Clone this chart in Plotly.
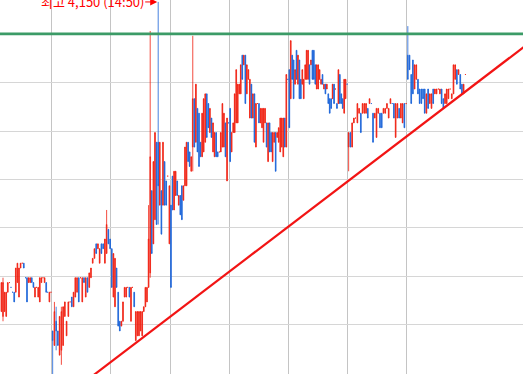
import plotly.graph_objects as go

# ---- OHLC per trading day (open, high, low, close) ----
day0 = [(3830,3860,3830,3860),(3825,3865,3820,3860),(3830,3850,3830,3850),(3825,3850,3825,3850),
        (3850,3860,3850,3860),(3860,3860,3860,3860),(3855,3855,3855,3855),(3850,3850,3850,3850),
        (3850,3850,3840,3840),(3850,3875,3850,3875),(3860,3880,3860,3880),(3845,3875,3845,3875),
        (3875,3880,3875,3880),(3880,3880,3880,3880),(3880,3880,3875,3875),(3865,3865,3865,3865),
        (3865,3865,3840,3840),(3860,3865,3860,3865),(3860,3865,3860,3865),(3865,3865,3860,3860),
        (3860,3860,3855,3855),(3845,3855,3845,3855),(3855,3855,3855,3855),(3845,3855,3845,3855),
        (3840,3865,3840,3865),(3860,3865,3860,3865),(3865,3865,3865,3865),(3860,3865,3860,3865),
        (3860,3860,3850,3850),(3850,3850,3850,3850),(3840,3850,3840,3850),(3850,3850,3850,3850)]
day1 = [(3810,3810,3765,3800),(3795,3840,3795,3830),(3820,3835,3790,3810),(3810,3810,3795,3795),
        (3785,3825,3785,3825),(3790,3835,3775,3830),(3795,3835,3795,3835),(3825,3840,3825,3840),
        (3805,3820,3805,3820),(3825,3840,3825,3840),(3840,3840,3840,3840),(3845,3845,3835,3835),
        (3835,3850,3835,3850),(3845,3865,3845,3865),(3850,3865,3850,3865),(3865,3865,3840,3840),
        (3865,3865,3865,3865),(3840,3865,3840,3865),(3865,3865,3860,3860),(3845,3865,3845,3865),
        (3865,3865,3850,3850),(3855,3870,3855,3870),(3865,3875,3865,3875),(3880,3885,3880,3885),
        (3885,3895,3885,3895),(3900,3900,3890,3890),(3895,3900,3895,3900),(3880,3895,3880,3895),
        (3900,3900,3890,3890),(3900,3900,3895,3895),(3880,3905,3880,3905),(3890,3935,3890,3920),
        (3915,3915,3900,3900),(3905,3905,3895,3895)]
day2 = [(3895,3895,3855,3855),(3845,3890,3845,3890),(3835,3885,3835,3885),(3875,3875,3855,3855),
        (3850,3850,3815,3815),(3820,3820,3810,3810),(3815,3820,3815,3820),(3820,3840,3820,3840),
        (3845,3855,3845,3855),(3845,3855,3845,3855),(3855,3855,3855,3855),(3855,3855,3845,3845),
        (3820,3855,3820,3855),(3855,3855,3855,3855),(3850,3850,3835,3835),(3800,3830,3800,3830),
        (3805,3830,3805,3830),(3805,3830,3805,3830),(3810,3830,3810,3830),(3805,3830,3805,3830),
        (3830,3835,3830,3835),(3835,3855,3835,3855),(3840,3855,3840,3855),(3855,3940,3855,3905),
        (3870,4120,3865,3990),(3955,3955,3890,3890),(3900,3985,3900,3985),(3925,4015,3925,4015),
        (4005,4005,3920,3920),(4005,4150,3920,3960),(3940,4005,3940,4005),(3955,3955,3910,3910),
        (3940,4005,3940,4005),(3985,3985,3940,3940),(3965,3965,3940,3940),(3970,3970,3970,3970),
        (3900,3960,3900,3960)]
day3 = [(3940,3940,3855,3855),(3970,3970,3935,3935),(3935,3975,3935,3975),(3950,3975,3950,3975),
        (3965,3965,3950,3950),(3940,3950,3940,3950),(3950,3950,3930,3930),(3960,3960,3925,3925),
        (3945,3960,3945,3960),(3960,4000,3960,4000),(3960,4005,3960,4005),(4005,4005,3985,3985),
        (3995,3995,3980,3980),(3975,3990,3975,3990),(4000,4115,3975,4050),(4050,4050,4000,4000),
        (4005,4065,4005,4065),(4040,4040,3995,3995),(4035,4035,3980,3980),(4005,4005,3990,3990),
        (3990,4035,3990,4035),(3995,4050,3995,4050),(4005,4055,4005,4055),(4055,4055,4010,4010),
        (4045,4045,4020,4020),(4015,4040,4015,4040),(4030,4030,4010,4010),(3995,4025,3995,4025),
        (3990,4015,3990,4015),(4015,4015,3990,3990),(3995,3995,3990,3990),(3995,3995,3995,3995),
        (3995,4015,3995,4015),(4000,4045,4000,4045),(4000,4035,4000,4035),(4025,4025,3990,3990),
        (3965,4030,3965,4030),(4025,4025,4025,4025)]
day4 = [(4040,4040,3985,3985),(3995,4015,3995,4015),(4015,4025,4015,4025),(4015,4055,4015,4055),
        (4025,4080,4025,4080),(4025,4065,4025,4065),(4055,4065,4055,4065),(4055,4085,4055,4085),
        (4095,4095,4070,4070),(4085,4095,4085,4095),(4095,4095,4045,4045),(4055,4085,4055,4085),
        (4070,4080,4070,4080),(4030,4070,4030,4070),(4065,4065,4030,4030),(4030,4055,4030,4055),
        (4055,4055,4005,4005),(4000,4045,4000,4045),(4045,4045,4045,4045),(4045,4045,4025,4025),
        (4025,4040,4025,4040),(4020,4040,4020,4040),(4005,4040,4005,4040),(4025,4040,4025,4040),
        (4025,4025,4000,4000),(3985,4025,3985,4025),(4025,4025,3995,3995),(4015,4015,3995,3995),
        (3985,4015,3985,4015),(4005,4015,4005,4015),(4015,4015,3975,3975),(4010,4015,4010,4015),
        (4005,4020,4005,4020),(3995,4030,3995,4030),(4000,4030,4000,4030),(3990,4030,3990,4030),
        (4030,4030,4000,4000),(4000,4075,4000,4075),(4070,4070,4070,4070)]
day5 = [(4080,4080,4020,4020),(4050,4110,4050,4110),(4095,4095,4070,4070),(4090,4090,4050,4050),
        (4065,4080,4065,4080),(4100,4100,4070,4070),(4065,4095,4065,4095),(4090,4090,4050,4050),
        (4070,4070,4050,4050),(4065,4080,4065,4080),(4050,4070,4050,4070),(4070,4085,4070,4085),
        (4070,4100,4070,4100),(4070,4100,4070,4100),(4085,4085,4065,4065),(4085,4090,4085,4090),
        (4100,4100,4070,4070),(4100,4100,4070,4070),(4085,4085,4065,4065),(4060,4085,4060,4085),
        (4060,4085,4060,4085),(4070,4080,4070,4080),(4065,4070,4065,4070),(4075,4075,4065,4065),
        (4060,4065,4060,4065),(4065,4065,4055,4055),(4060,4065,4060,4065),(4055,4055,4045,4045),
        (4050,4050,4035,4035),(4050,4050,4040,4040),(4050,4065,4050,4065),(4065,4065,4045,4045),
        (4060,4060,4060,4060),(4045,4045,4040,4040),(4045,4080,4045,4080),(4075,4075,4045,4045),
        (4055,4055,4045,4045),(4050,4050,4040,4040),(4035,4070,4035,4070),(4050,4070,4050,4070),
        (4065,4065,4065,4065)]
day6 = [(4000,4015,3975,4015),(4015,4015,4000,4000),(4000,4025,4000,4025),(4025,4030,4025,4030),
        (4030,4030,4030,4030),(4025,4045,4025,4045),(4035,4040,4035,4040),(4035,4035,4015,4015),
        (4035,4045,4035,4045),(4035,4045,4035,4045),(4035,4045,4035,4045),(4040,4040,4030,4030),
        (4045,4050,4045,4050),(4045,4045,4045,4045),(4035,4035,4005,4005),(4030,4035,4030,4035),
        (4010,4040,4010,4040),(4035,4040,4035,4040),(4035,4035,4020,4020),(4035,4035,4020,4020),
        (4035,4040,4035,4040),(4035,4040,4035,4040),(4040,4045,4040,4045),(4030,4040,4030,4040),
        (4045,4050,4045,4050),(4045,4045,4045,4045),(4045,4045,4030,4030),(4010,4045,4010,4045),
        (4030,4045,4030,4045),(4040,4040,4030,4030),(4030,4045,4030,4045),(4025,4045,4025,4045),
        (4045,4045,4020,4020),(4045,4045,4045,4045)]
day7 = [(4095,4125,4070,4070),(4095,4095,4080,4080),(4075,4075,4045,4045),(4090,4090,4055,4055),
        (4060,4085,4060,4085),(4070,4085,4070,4085),(4070,4070,4055,4055),(4060,4060,4045,4045),
        (4060,4060,4045,4045),(4060,4060,4050,4050),(4060,4060,4035,4035),(4035,4055,4035,4055),
        (4060,4060,4040,4040),(4045,4055,4045,4055),(4040,4055,4040,4055),(4060,4060,4045,4045),
        (4055,4060,4055,4060),(4055,4060,4055,4060),(4060,4060,4060,4060),(4055,4060,4055,4060),
        (4060,4060,4045,4045),(4050,4050,4040,4040),(4045,4055,4045,4055),(4045,4060,4045,4060),
        (4050,4060,4050,4060),(4060,4060,4060,4060),(4050,4055,4050,4055),(4055,4085,4055,4085),
        (4070,4085,4070,4085),(4080,4080,4065,4065),(4075,4080,4075,4080),(4075,4075,4060,4060),
        (4065,4065,4055,4055),(4055,4065,4055,4065),(4075,4075,4075,4075)]

days = [day0, day1, day2, day3, day4, day5, day6, day7]
first_day_hidden = 5          # bars of the first day lying left of the visible window
day_boundaries = [1, 2, 3, 4, 5, 6, 7]

resistance = 4117.0           # green horizontal line
trend_x = [1.5, 9.0]          # red support trendline (day units, price)
trend_y = [3754.7, 4104.7]
high_time = "14:50"

x_view = [0.125, 8.96]
y_view = [3765.5, 4152]
grid_start, grid_step = 4116.4, 50

RED = "#f01e0f"
BLUE = "#1862d8"

xs, o, h, l, c = [], [], [], [], []
for d, bars in enumerate(days):
    lead = first_day_hidden if d == 0 else 0
    n = len(bars) + lead
    for j, (op, hi, lo, cl) in enumerate(bars):
        xs.append(d + (j + lead + 0.5) / n)
        o.append(op); h.append(hi); l.append(lo); c.append(cl)

fig = go.Figure()
fig.add_trace(go.Candlestick(
    x=xs, open=o, high=h, low=l, close=c,
    increasing=dict(line=dict(color=RED, width=0.8), fillcolor=RED),
    decreasing=dict(line=dict(color=BLUE, width=0.8), fillcolor=BLUE),
    whiskerwidth=0, hoverinfo="skip", showlegend=False,
))

fig.add_shape(type="line", xref="paper", x0=0, x1=1, yref="y", y0=resistance, y1=resistance,
              line=dict(color="#3c9b67", width=2.6))
fig.add_shape(type="line", xref="x", yref="y", x0=trend_x[0], y0=trend_y[0],
              x1=trend_x[1], y1=trend_y[1], line=dict(color="#f21414", width=2.2))

i_max = max(range(len(h)), key=lambda i: h[i])
fig.add_annotation(
    x=xs[i_max], y=h[i_max], xref="x", yref="y",
    text=f"최고 {h[i_max]:,} ({high_time})",
    showarrow=True, arrowhead=2, arrowsize=1.4, arrowwidth=1, arrowcolor="#ff0000",
    ax=-66, ay=0, standoff=1,
    font=dict(color="#ff0000", size=13, family="Noto Sans CJK KR"),
)

fig.update_layout(
    width=523, height=374, margin=dict(l=0, r=0, t=0, b=0),
    paper_bgcolor="white", plot_bgcolor="white", showlegend=False,
    xaxis=dict(range=x_view, tickvals=day_boundaries, showticklabels=False,
               showgrid=True, gridcolor="#c4c4c4", gridwidth=1, zeroline=False,
               rangeslider=dict(visible=False), fixedrange=True),
    yaxis=dict(range=y_view, tick0=grid_start, dtick=grid_step, showticklabels=False,
               showgrid=True, gridcolor="#d6d6d6", gridwidth=1, zeroline=False, fixedrange=True),
)

fig.write_html("out.html", config={"displayModeBar": False},
               post_script="document.body.style.margin='0';document.body.style.overflow='hidden';")
